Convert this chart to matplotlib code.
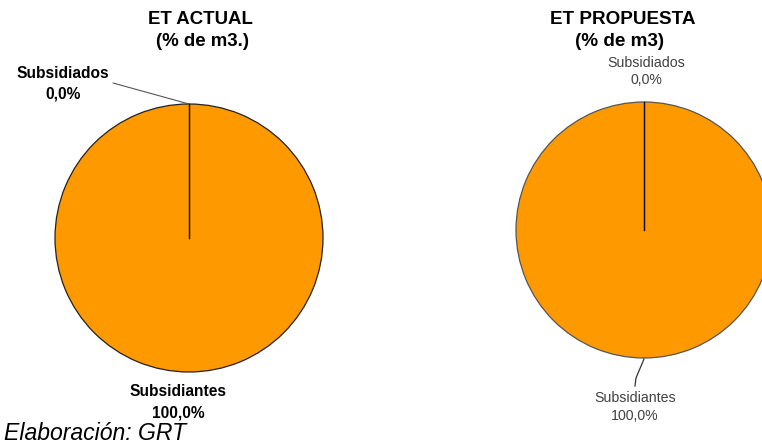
import numpy as np
import matplotlib
matplotlib.use("Agg")
import matplotlib.pyplot as plt

plt.rcParams['font.family'] = ['Liberation Sans', 'DejaVu Sans']

# data
categorias = ['Subsidiados', 'Subsidiantes']
et_actual = [0.0, 100.0]
et_propuesta = [0.0, 100.0]
titulo_actual = ['ET ACTUAL', '(% de m3.)']
titulo_propuesta = ['ET PROPUESTA', '(% de m3)']
fuente = 'Elaboración: GRT'

W, H = 762, 447
naranja = '#FF9900'


def fmt(v):
    return f"{v:.1f}%".replace('.', ',')


def Y(y):
    # pixel row (from top) -> axis coordinate
    return H - y


fig = plt.figure(figsize=(W / 100, H / 100), dpi=100)
ax = fig.add_axes([0, 0, 1, 1])


def draw_pie(vals, cx, cy, r, edge):
    ax.pie(vals, center=(cx, Y(cy)), radius=r, startangle=90, counterclock=False,
           colors=[naranja, naranja],
           wedgeprops=dict(edgecolor=edge, linewidth=0.9))
    # wedge boundaries (a 0 % / 100 % split leaves only the radius at the start)
    frac = np.cumsum([0] + list(vals))[:-1] / np.sum(vals)
    for f in frac:
        ang = np.deg2rad(90 - 360 * f)
        ax.plot([cx, cx + r * np.cos(ang)], [Y(cy), Y(cy) + r * np.sin(ang)],
                color='#111111', lw=0.9)


# ---- left pie: ET ACTUAL ----
draw_pie(et_actual, 189, 238, 134, '#222222')
# ---- right pie: ET PROPUESTA ----
draw_pie(et_propuesta, 644, 230, 128, '#555555')

# pie() resets the limits, so fix them afterwards
ax.set_xlim(0, W)
ax.set_ylim(0, H)
ax.set_aspect('auto')
ax.axis('off')

ax.text(200, Y(19), titulo_actual[0], ha='center', va='center', fontsize=13.4, fontweight='bold')
ax.text(203, Y(41), titulo_actual[1], ha='center', va='center', fontsize=13.4, fontweight='bold')

ax.text(63, Y(73), categorias[0], ha='center', va='center', fontsize=11.2, fontweight='bold')
ax.text(63, Y(94), fmt(et_actual[0]), ha='center', va='center', fontsize=11.2, fontweight='bold')
ax.annotate('', xy=(189, Y(104)), xytext=(113, Y(83)),
            arrowprops=dict(arrowstyle='-', color='#555555', lw=0.8, shrinkA=0, shrinkB=0))

ax.text(178, Y(391), categorias[1], ha='center', va='center', fontsize=11.2, fontweight='bold')
ax.text(178, Y(413), fmt(et_actual[1]), ha='center', va='center', fontsize=11.2, fontweight='bold')

ax.text(623, Y(19), titulo_propuesta[0], ha='center', va='center', fontsize=13.6, fontweight='bold')
ax.text(620, Y(41), titulo_propuesta[1], ha='center', va='center', fontsize=13.6, fontweight='bold')

gris = '#404040'
ax.text(646, Y(63), categorias[0], ha='center', va='center', fontsize=10.2, color=gris)
ax.text(646, Y(80), fmt(et_propuesta[0]), ha='center', va='center', fontsize=10.2, color=gris)

ax.text(635, Y(398), categorias[1], ha='center', va='center', fontsize=10.2, color=gris)
ax.text(635, Y(416), fmt(et_propuesta[1]), ha='center', va='center', fontsize=10.2, color=gris)
ax.plot([644, 636, 635], [Y(359), Y(378), Y(386)], color='#333333', lw=0.9)

ax.text(4, Y(434), fuente, ha='left', va='center', fontsize=16.6, fontstyle='italic')

fig.savefig('out.png', dpi=100)
